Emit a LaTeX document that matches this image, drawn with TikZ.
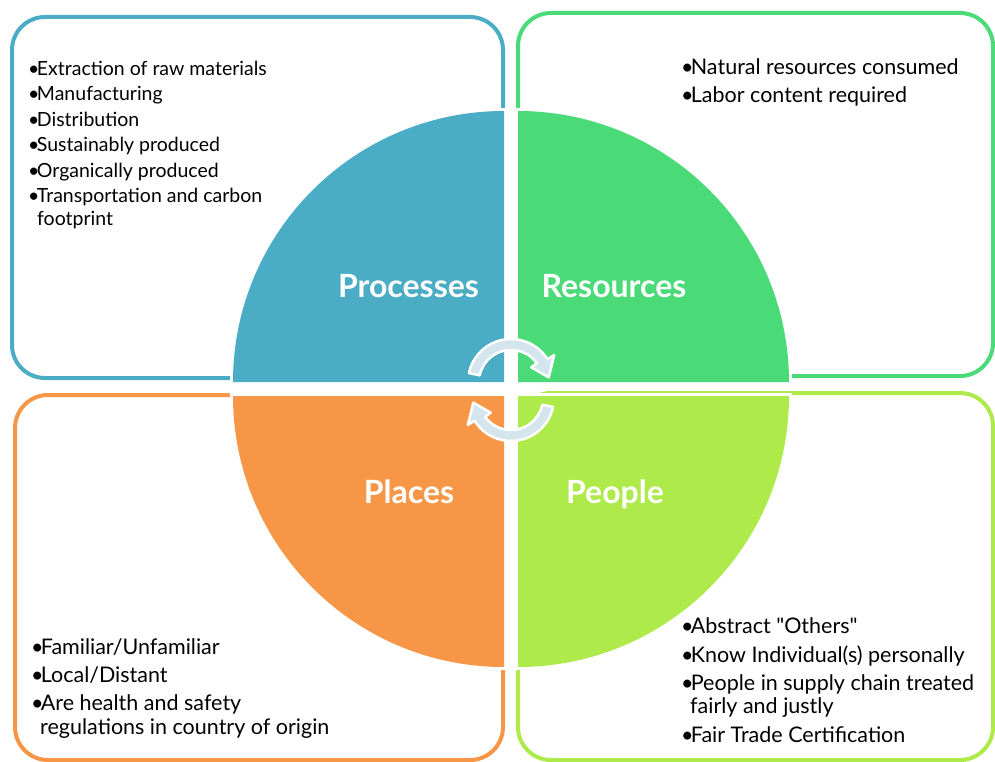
\documentclass[tikz,border=0pt]{standalone}
\usepackage{fontspec}
\setmainfont{Lato}
\definecolor{cblue}{HTML}{4BACC6}
\definecolor{cgreen}{HTML}{4ADA78}
\definecolor{corange}{HTML}{F79646}
\definecolor{clime}{HTML}{ADEA4A}
\definecolor{carrow}{HTML}{D4E5ED}
\newcommand{\bu}{\makebox[0.45em][l]{\textbullet}}
\begin{document}
\begin{tikzpicture}[x=1pt,y=-1pt,
  box/.style={line width=4pt, rounded corners=33pt},
  quad/.style={draw=white, line width=6pt},
  lab/.style={anchor=base, text=white, inner sep=0pt, font=\bfseries\fontsize{32}{32}\selectfont},
  tA/.style={anchor=base west, inner sep=0pt, font=\fontsize{19.5}{21}\selectfont},
  tB/.style={anchor=base west, inner sep=0pt, font=\fontsize{21.5}{23}\selectfont},
  tC/.style={anchor=base west, inner sep=0pt, font=\fontsize{21.5}{23}\selectfont},
  arr/.style={fill=carrow, draw=white, line width=2.5pt, line join=round}]
\useasboundingbox (0,0) rectangle (995,762);
% boxes
\draw[box, draw=cblue] (12,17) rectangle (503,378);
\draw[box, draw=cgreen] (518,13) rectangle (993,376);
\draw[box, draw=corange] (15,395) rectangle (503,760);
\draw[box, draw=clime] (518,393) rectangle (993,760);
% quadrant outlines (white) and fills
\path[quad] (504,382) -- (233,382) arc[start angle=180, end angle=270, radius=271] -- cycle;
\path[quad] (518,382) -- (518,111) arc[start angle=270, end angle=360, radius=271] -- cycle;
\path[quad] (504,396) -- (233,396) arc[start angle=180, end angle=90, radius=271] -- cycle;
\path[quad] (518,396) -- (789,396) arc[start angle=0, end angle=90, radius=271] -- cycle;
\fill[cblue] (504,382) -- (233,382) arc[start angle=180, end angle=270, radius=271] -- cycle;
\fill[cgreen] (518,382) -- (518,111) arc[start angle=270, end angle=360, radius=271] -- cycle;
\fill[corange] (504,396) -- (233,396) arc[start angle=180, end angle=90, radius=271] -- cycle;
\fill[clime] (518,396) -- (789,396) arc[start angle=0, end angle=90, radius=271] -- cycle;
% labels
\node[lab] (lproc) at (408.5,297) {Processes};
\node[lab] (lres) at (614,297) {Resources};
\node[lab] (lplac) at (409,503) {Places};
\node[lab] (lpeop) at (615,503) {People};
% circular arrows
\coordinate (c1) at (511,382);
\coordinate (c2) at (511,398);
\path[arr] ([shift={(c1)}]192:43) arc[start angle=192, end angle=328, radius=43]
  -- ([shift={(c1)}]328:51) -- ([shift={(c1)}]353:38) -- ([shift={(c1)}]324:25)
  -- ([shift={(c1)}]324:32) arc[start angle=324, end angle=192, radius=32] -- cycle;
\path[arr] ([shift={(c2)}]12:43) arc[start angle=12, end angle=148, radius=43]
  -- ([shift={(c2)}]148:51) -- ([shift={(c2)}]173:38) -- ([shift={(c2)}]144:25)
  -- ([shift={(c2)}]144:32) arc[start angle=144, end angle=12, radius=32] -- cycle;
% processes list
\node[tA] (p1) at (28,76) {\bu Extraction of raw materials};
\node[tA] (p2) at (28,101) {\bu Manufacturing};
\node[tA] (p3) at (28,127) {\bu Distribution};
\node[tA] (p4) at (28,152) {\bu Sustainably produced};
\node[tA] (p5) at (28,178) {\bu Organically produced};
\node[tA] (p6) at (28,203) {\bu Transportation and carbon};
\node[tA] (p6b) at (37,225) {footprint};
% resources list
\node[tB] (r1) at (681,75) {\bu Natural resources consumed};
\node[tB] (r2) at (681,103) {\bu Labor content required};
% places list
\node[tC] (s1) at (31,654) {\bu Familiar/Unfamiliar};
\node[tC] (s2) at (31,682) {\bu Local/Distant};
\node[tC] (s3) at (31,710) {\bu Are health and safety};
\node[tC] (s3b) at (40,734) {regulations in country of origin};
% people list
\node[tC] (q1) at (681,633) {\bu Abstract \textquotedbl Others\textquotedbl};
\node[tC] (q2) at (681,662) {\bu Know Individual(s) personally};
\node[tC] (q3) at (681,690) {\bu People in supply chain treated};
\node[tC] (q3b) at (690,713) {fairly and justly};
\node[tC] (q4) at (681,742) {\bu Fair Trade Certification};
\end{tikzpicture}
\end{document}
